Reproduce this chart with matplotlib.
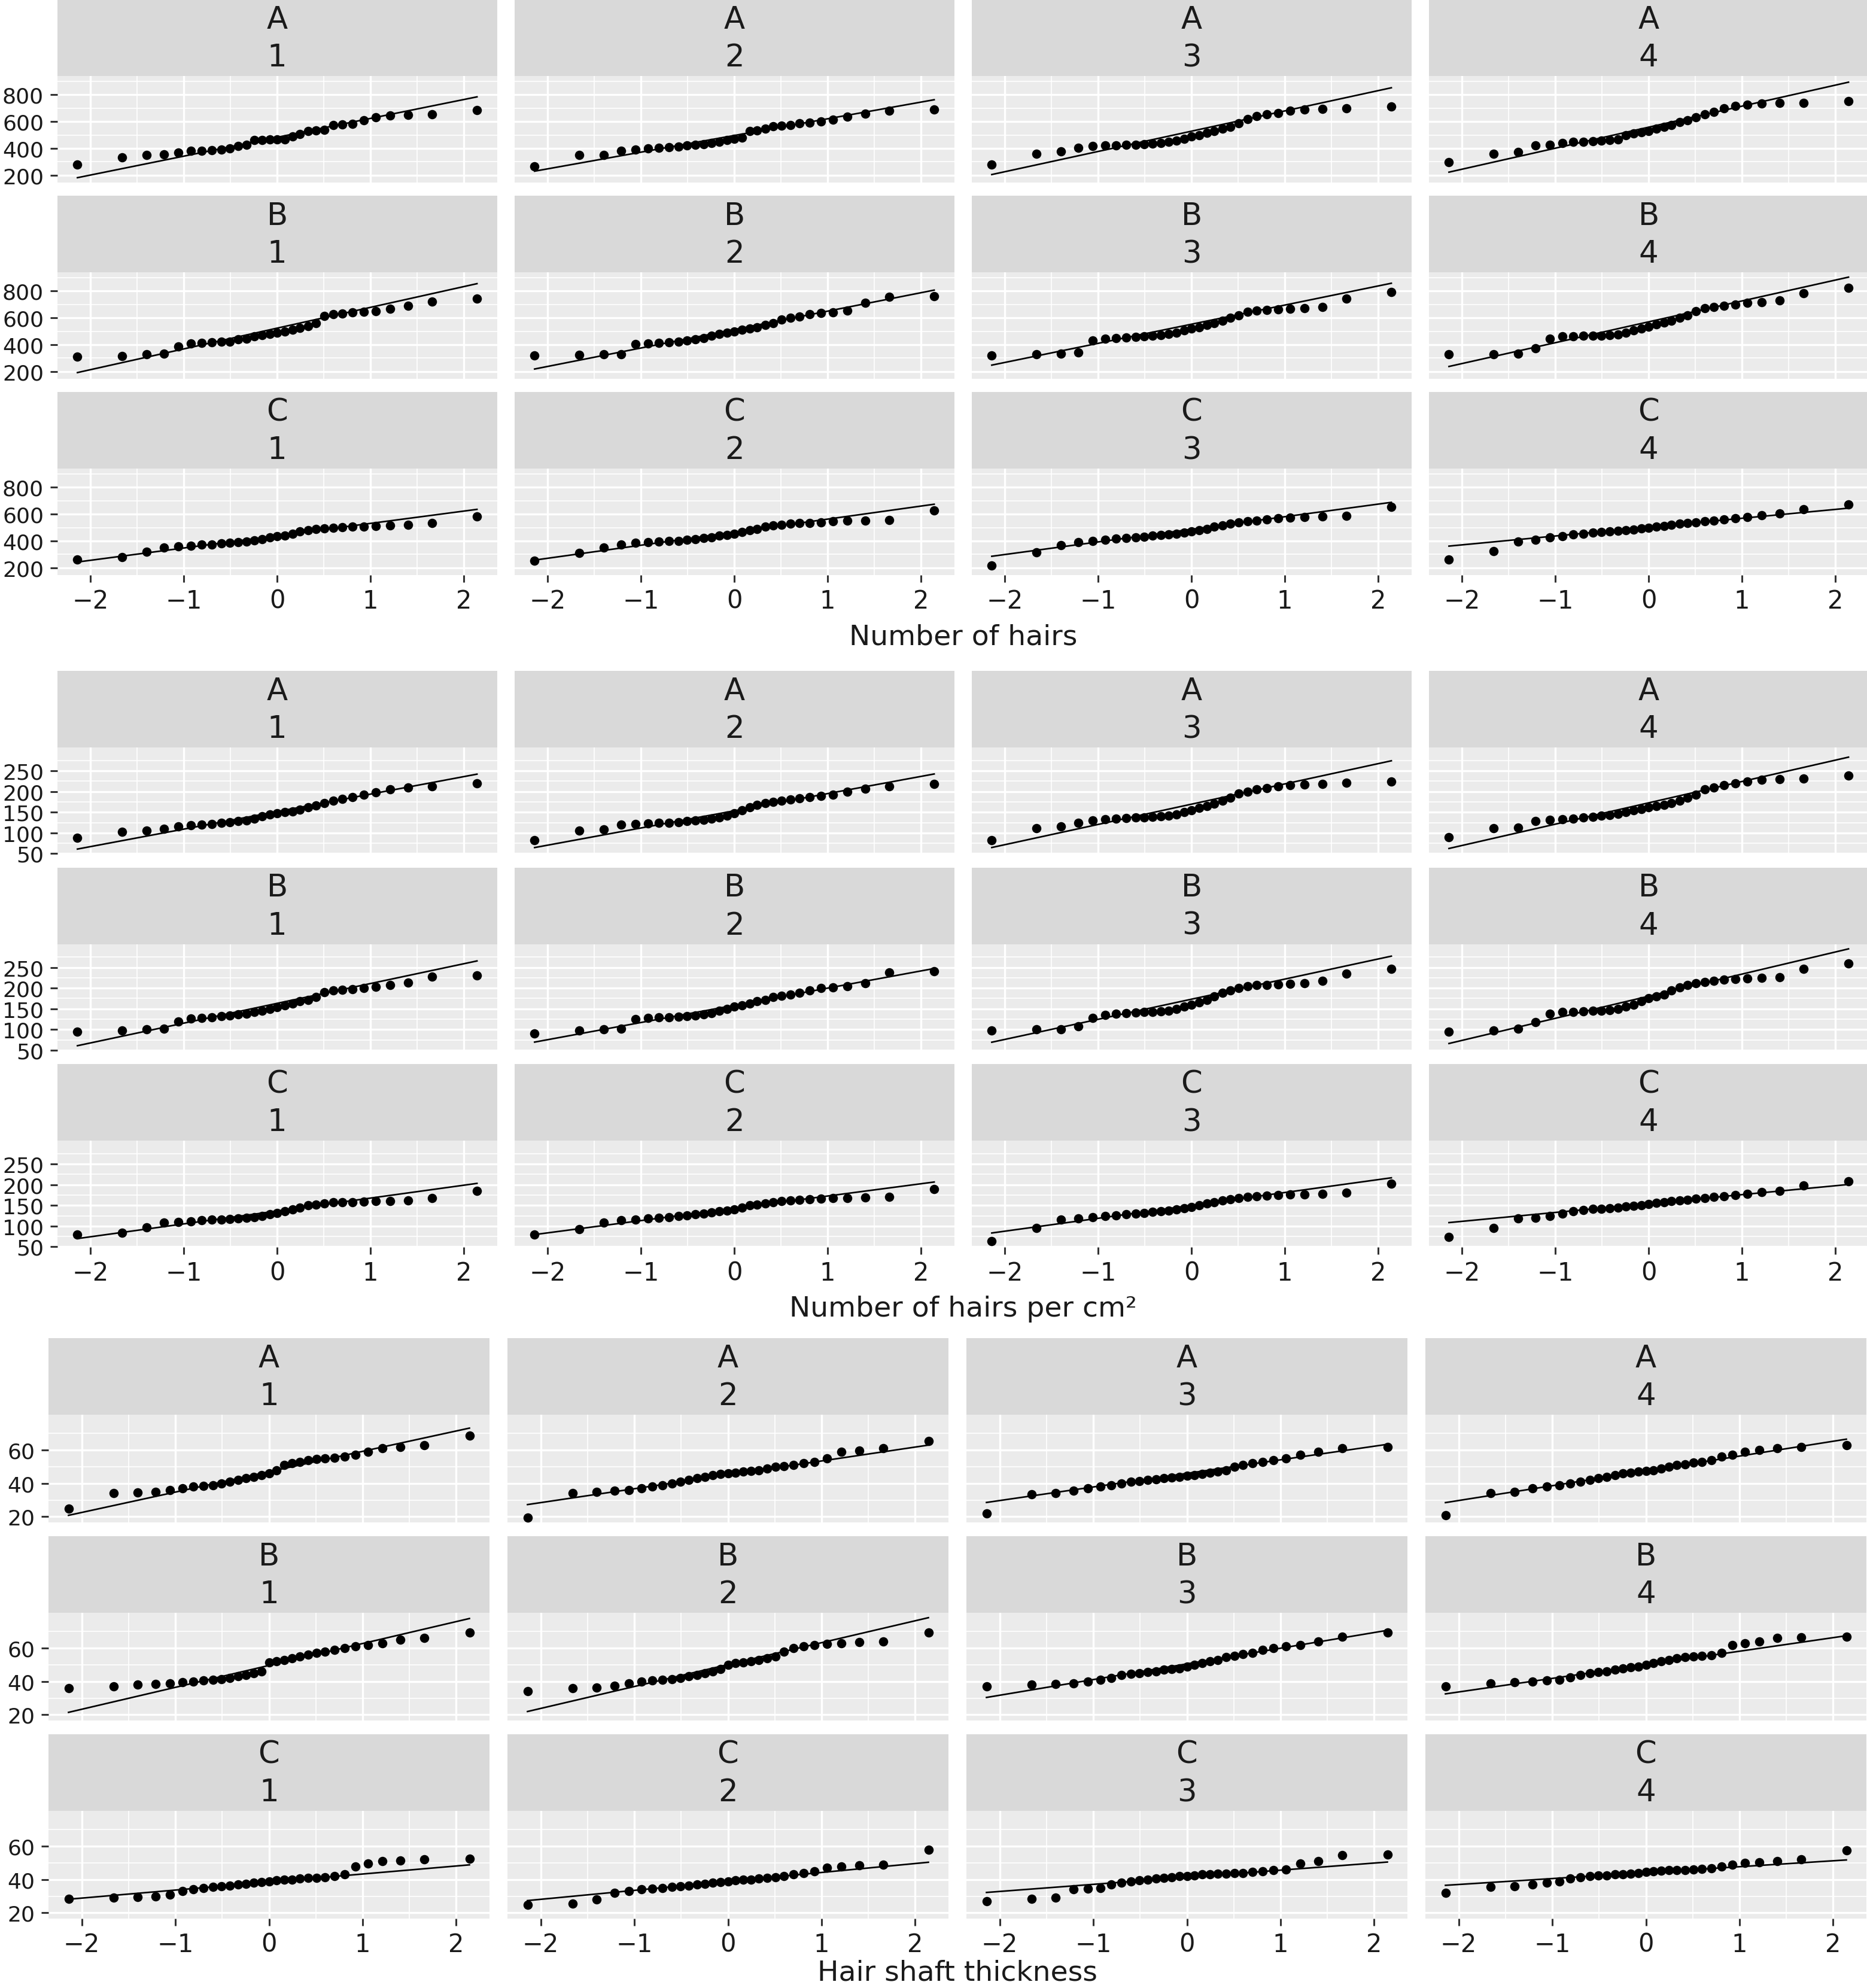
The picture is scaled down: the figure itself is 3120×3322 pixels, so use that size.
import numpy as np
import matplotlib.pyplot as plt
from statistics import NormalDist

plt.rcParams['font.family'] = ['DejaVu Sans']

groups = ['A', 'B', 'C']
visits = ['1', '2', '3', '4']
x_titles = ['Number of hairs', 'Number of hairs per cm²', 'Hair shaft thickness']
y_breaks = [[200, 400, 600, 800], [50, 100, 150, 200, 250], [20, 40, 60]]
x_breaks = [-2, -1, 0, 1, 2]

# sorted sample values read off each facet (31 per facet)
# --- number of hairs ---
hairs_A1 = [280, 333, 352, 355, 368, 380, 383, 386, 390, 402, 416, 426, 462, 464, 466, 466, 468, 490, 505, 528, 532, 540, 575, 580, 582, 610, 632, 645, 650, 655, 683]
hairs_A2 = [265, 350, 352, 383, 390, 398, 405, 410, 415, 420, 425, 430, 440, 450, 460, 470, 478, 530, 535, 545, 565, 570, 575, 585, 590, 600, 615, 635, 660, 680, 690]
hairs_A3 = [280, 360, 378, 405, 418, 420, 423, 425, 428, 432, 436, 440, 448, 458, 472, 488, 500, 515, 530, 545, 562, 585, 620, 640, 652, 662, 680, 688, 692, 700, 710]
hairs_A4 = [298, 360, 375, 420, 428, 440, 448, 450, 455, 458, 462, 468, 500, 510, 520, 530, 545, 560, 575, 595, 610, 630, 655, 672, 700, 715, 725, 732, 738, 740, 750]
hairs_B1 = [310, 315, 330, 335, 385, 410, 415, 418, 420, 424, 440, 446, 460, 470, 480, 490, 500, 510, 525, 540, 560, 615, 625, 630, 640, 645, 650, 665, 690, 720, 745]
hairs_B2 = [318, 325, 327, 328, 405, 410, 415, 418, 422, 430, 440, 448, 465, 478, 490, 500, 510, 520, 530, 545, 560, 585, 600, 610, 625, 635, 640, 655, 712, 755, 760]
hairs_B3 = [320, 327, 334, 342, 430, 445, 450, 455, 458, 462, 466, 470, 480, 490, 505, 520, 530, 545, 560, 580, 600, 620, 645, 652, 658, 662, 665, 670, 680, 745, 790]
hairs_B4 = [327, 330, 335, 372, 445, 460, 463, 465, 466, 468, 470, 475, 490, 505, 520, 535, 550, 565, 580, 600, 620, 650, 670, 680, 690, 700, 710, 715, 730, 782, 825]
hairs_C1 = [262, 280, 320, 350, 360, 365, 372, 375, 380, 385, 390, 395, 405, 415, 425, 435, 440, 455, 470, 480, 490, 495, 500, 502, 505, 508, 510, 515, 520, 535, 583]
hairs_C2 = [255, 310, 350, 375, 385, 390, 395, 398, 402, 408, 415, 420, 428, 438, 445, 455, 465, 480, 490, 505, 515, 520, 530, 532, 535, 538, 545, 550, 552, 555, 625]
hairs_C3 = [218, 315, 370, 390, 400, 410, 418, 422, 425, 430, 438, 445, 450, 455, 460, 470, 480, 490, 505, 515, 530, 540, 548, 552, 560, 568, 572, 578, 582, 585, 652]
hairs_C4 = [262, 322, 395, 410, 425, 435, 450, 455, 462, 465, 470, 474, 478, 485, 492, 500, 505, 512, 520, 528, 535, 540, 545, 550, 560, 570, 578, 590, 605, 635, 673]

# --- number of hairs per cm2 ---
density_A1 = [88, 102, 105, 110, 115, 118, 120, 122, 124, 126, 128, 130, 135, 140, 145, 148, 150, 152, 156, 162, 166, 172, 178, 182, 186, 192, 198, 206, 210, 213, 220]
density_A2 = [83, 106, 108, 120, 122, 123, 124, 125, 126, 128, 130, 132, 134, 138, 142, 148, 155, 162, 168, 172, 175, 178, 180, 183, 186, 190, 193, 200, 207, 212, 218]
density_A3 = [83, 112, 115, 125, 130, 133, 135, 136, 137, 138, 139, 140, 142, 145, 150, 155, 160, 165, 170, 178, 185, 195, 200, 205, 208, 212, 215, 217, 219, 221, 224]
density_A4 = [90, 111, 113, 128, 131, 133, 135, 137, 139, 141, 143, 146, 150, 155, 158, 162, 165, 168, 172, 178, 185, 193, 205, 210, 215, 220, 224, 228, 230, 232, 238]
density_B1 = [95, 98, 100, 102, 120, 126, 128, 130, 132, 134, 136, 138, 142, 146, 150, 154, 158, 162, 168, 172, 178, 190, 195, 196, 198, 200, 203, 207, 213, 228, 231]
density_B2 = [90, 97, 100, 102, 125, 128, 129, 130, 131, 132, 134, 136, 140, 145, 150, 155, 158, 162, 168, 172, 178, 182, 185, 188, 195, 200, 202, 205, 212, 238, 240]
density_B3 = [97, 100, 101, 107, 128, 135, 138, 140, 141, 142, 143, 144, 146, 150, 155, 160, 165, 172, 180, 188, 195, 200, 205, 207, 208, 209, 210, 212, 218, 235, 247]
density_B4 = [95, 97, 102, 118, 138, 142, 143, 144, 145, 146, 147, 150, 155, 160, 168, 175, 180, 185, 195, 202, 208, 212, 215, 218, 220, 222, 224, 225, 226, 247, 259]
density_C1 = [79, 84, 97, 108, 110, 112, 114, 115, 116, 117, 118, 120, 122, 125, 128, 132, 136, 140, 145, 150, 152, 155, 157, 158, 158, 159, 160, 160, 162, 168, 185]
density_C2 = [80, 93, 108, 114, 116, 118, 120, 122, 124, 126, 128, 130, 133, 136, 138, 140, 145, 150, 152, 155, 158, 160, 162, 164, 165, 166, 167, 168, 169, 170, 190]
density_C3 = [64, 96, 115, 118, 122, 124, 126, 128, 130, 132, 134, 136, 138, 140, 143, 146, 150, 154, 158, 162, 165, 168, 170, 172, 174, 175, 176, 177, 178, 180, 203]
density_C4 = [74, 96, 118, 120, 125, 130, 136, 139, 141, 142, 143, 145, 147, 149, 151, 153, 156, 158, 160, 162, 164, 166, 168, 170, 172, 175, 178, 182, 185, 198, 208]

# --- hair shaft thickness ---
shaft_A1 = [25, 34, 34.5, 35, 36, 37, 38, 38.5, 39, 40, 41, 42, 43, 44, 45, 46, 48, 51, 52, 53, 54, 54.5, 55, 55.5, 56, 57, 59, 61, 62, 63, 68.5]
shaft_A2 = [19.5, 34, 35, 35.5, 36, 37, 38, 39, 40, 41, 42, 43, 44, 45, 45.5, 46, 46.5, 47, 47.5, 48, 49, 50, 50.5, 51, 52, 53, 55, 59, 59.5, 61, 65.5]
shaft_A3 = [22, 33.5, 34, 35.5, 37, 38, 39, 40, 41, 41.5, 42, 42.5, 43, 43.5, 44, 44.5, 45, 45.5, 46.5, 47, 48, 50, 51, 52, 53, 54, 55, 57, 59, 61, 62]
shaft_A4 = [21, 34, 35, 37, 38, 39, 40, 41, 42, 43, 44, 45, 46, 46.5, 47, 47.5, 48, 49, 50, 51, 51.5, 52.5, 53, 54, 56, 57, 59, 60, 61, 62, 63]
shaft_B1 = [36, 37, 38, 38.5, 39, 39.5, 40, 40.5, 41, 41.5, 42, 43, 44, 45, 46, 51.5, 52, 53, 54, 55, 56, 57, 58, 59, 60, 61, 62, 63, 65, 66, 69.5]
shaft_B2 = [34, 36, 36.5, 37.5, 39, 40, 40.5, 41, 41.5, 42, 43, 44, 45, 46, 47.5, 50, 51, 51.5, 52, 53, 54, 55, 58, 60, 61, 62, 62.5, 63, 63.5, 64, 69.5]
shaft_B3 = [37, 38, 38.5, 39, 40, 41, 42, 43.8, 44.6, 45, 45.5, 46, 47, 47.5, 48, 49, 50, 51, 52, 53, 54.5, 55.5, 56.5, 57.3, 59, 60, 61, 62, 64, 67, 69.5]
shaft_B4 = [37, 39, 39.5, 40, 40.5, 41, 42.5, 44, 45, 45.5, 46, 47, 48, 48.5, 49, 50, 51, 52, 53, 54, 54.5, 55, 55.3, 55.7, 57, 62, 63, 64, 66, 66.5, 67]
shaft_C1 = [28.5, 29, 29.5, 30, 31, 33, 34, 35, 35.5, 36, 36.5, 37, 37.5, 38, 38.5, 39, 39.5, 40, 40, 40.5, 41, 41, 41.5, 42, 43, 48, 49.5, 51, 51.5, 52, 52.5]
shaft_C2 = [25, 25.5, 28, 32, 33, 34, 34.5, 35, 35.5, 36, 36.5, 37, 37.5, 38, 38.5, 39, 39.5, 40, 40, 40.5, 41, 41.5, 42, 43, 44, 45, 47, 48, 48.5, 49, 58]
shaft_C3 = [27, 28.5, 29, 34, 34.5, 35, 37, 38, 39, 39.5, 40, 40.5, 41, 41.5, 42, 42, 42.5, 43, 43, 43.5, 43.5, 44, 44, 44.5, 45, 45.5, 46, 49.5, 51, 54.5, 55]
shaft_C4 = [32, 35.5, 36, 37, 38, 39, 40.5, 41.5, 42, 42.3, 42.6, 43, 43.3, 43.6, 44, 44.5, 45, 45.2, 45.5, 45.7, 45.8, 46, 46.3, 46.8, 48, 49, 50, 50.5, 51, 52, 57.5]

blocks = [
    [[hairs_A1, hairs_A2, hairs_A3, hairs_A4],
     [hairs_B1, hairs_B2, hairs_B3, hairs_B4],
     [hairs_C1, hairs_C2, hairs_C3, hairs_C4]],
    [[density_A1, density_A2, density_A3, density_A4],
     [density_B1, density_B2, density_B3, density_B4],
     [density_C1, density_C2, density_C3, density_C4]],
    [[shaft_A1, shaft_A2, shaft_A3, shaft_A4],
     [shaft_B1, shaft_B2, shaft_B3, shaft_B4],
     [shaft_C1, shaft_C2, shaft_C3, shaft_C4]],
]

# layout in pixels
W, H = 3120, 3323
block_top = [0, 1122, 2237]
col_left = [96, 96, 81]
col_pitch = [764, 764, 767]
col_w = [734.5, 734.5, 737]
row_pitch = [328, 328.5, 331]
strip_h = 128
panel_h = [178, 178, 180]
xlab_base = [1077, 2200, 3310]

PANEL = '#EBEBEB'
STRIP = '#D9D9D9'
TXT = '#1A1A1A'

norm = NormalDist()


def qq(values):
    y = np.sort(np.asarray(values, dtype=float))
    n = len(y)
    x = np.array([norm.inv_cdf((i + 0.5) / n) for i in range(n)])
    q1, q3 = np.percentile(y, [25, 75])
    t1, t3 = norm.inv_cdf(0.25), norm.inv_cdf(0.75)
    slope = (q3 - q1) / (t3 - t1)
    icpt = q1 - slope * t1
    lx = np.array([x.min(), x.max()])
    return x, y, lx, icpt + slope * lx


def minor_of(b, lim):
    step = b[1] - b[0]
    ext = [b[0] - step] + list(b) + [b[-1] + step]
    mids = [(a + c) / 2 for a, c in zip(ext[:-1], ext[1:])]
    return [m for m in mids if lim[0] <= m <= lim[1]]


fig = plt.figure(figsize=(W / 100, H / 100), dpi=100)


def px_axes(x, y, w, h):
    return fig.add_axes([x / W, 1 - (y + h) / H, w / W, h / H])


for b, block in enumerate(blocks):
    fits = [[qq(v) for v in row] for row in block]
    lo = min(min(f[1].min(), f[3].min()) for row in fits for f in row)
    hi = max(max(f[1].max(), f[3].max()) for row in fits for f in row)
    pad = (hi - lo) * 0.05
    ylim = (lo - pad, hi + pad)
    xs = max(f[0].max() for row in fits for f in row)
    xlim = (-xs * 1.1, xs * 1.1)

    for r in range(3):
        for c in range(4):
            x0 = col_left[b] + c * col_pitch[b]
            y0 = block_top[b] + r * row_pitch[b]
            # strip
            sax = px_axes(x0, y0, col_w[b], strip_h)
            sax.set_facecolor(STRIP)
            sax.set_xticks([])
            sax.set_yticks([])
            for s in sax.spines.values():
                s.set_visible(False)
            sax.text(0.5, 0.628, groups[r], transform=sax.transAxes, ha='center',
                     va='baseline', fontsize=37, color=TXT)
            sax.text(0.5, 0.132, visits[c], transform=sax.transAxes, ha='center',
                     va='baseline', fontsize=37, color=TXT)

            # panel
            ax = px_axes(x0, y0 + strip_h, col_w[b], panel_h[b])
            ax.set_facecolor(PANEL)
            for s in ax.spines.values():
                s.set_visible(False)
            ax.set_xlim(xlim)
            ax.set_ylim(ylim)
            ax.set_xticks(x_breaks)
            ax.set_xticks(minor_of(x_breaks, xlim), minor=True)
            ax.set_yticks(y_breaks[b])
            ax.set_yticks(minor_of(y_breaks[b], ylim), minor=True)
            ax.grid(which='major', color='white', linewidth=2.4)
            ax.grid(which='minor', color='white', linewidth=1.2)
            ax.set_axisbelow(True)
            ax.tick_params(which='minor', length=0)
            ax.tick_params(which='major', color='#333333', width=2.2, length=8.5)
            ax.tick_params(axis='y', labelsize=26, labelcolor=TXT, pad=8,
                           left=(c == 0), labelleft=(c == 0))
            ax.tick_params(axis='x', labelsize=30, labelcolor=TXT, pad=7,
                           bottom=(r == 2), labelbottom=(r == 2))

            x, y, lx, ly = fits[r][c]
            ax.plot(lx, ly, color='black', linewidth=1.9, zorder=3)
            ax.scatter(x, y, s=125, color='black', linewidths=0, zorder=4)

    xc = (col_left[b] + 3 * col_pitch[b] + col_w[b] + col_left[b]) / 2
    fig.text(xc / W, 1 - xlab_base[b] / H, x_titles[b], ha='center', va='baseline',
             fontsize=34, color=TXT)

fig.savefig('out.png', dpi=100)
